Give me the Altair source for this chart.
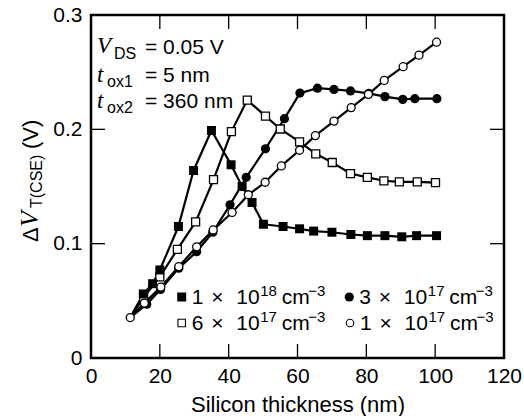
import altair as alt
import pandas as pd

# ---------------- data ----------------
thick_1e18 = [11.4, 15.2, 17.9, 20.0, 25.4, 29.8, 35.0, 40.7, 43.9, 46.8, 50.1, 55.8, 60.6,
              64.7, 70.0, 75.5, 80.3, 85.4, 90.3, 94.6, 100.4]
dvt_1e18 = [0.0354, 0.056, 0.065, 0.077, 0.115, 0.164, 0.199, 0.169, 0.150, 0.136, 0.117, 0.115, 0.113,
            0.111, 0.110, 0.108, 0.107, 0.107, 0.106, 0.107, 0.107]

thick_6e17 = [11.4, 15.3, 20.0, 25.1, 30.4, 35.6, 40.8, 45.4, 50.7, 55.0, 60.6, 65.3, 70.1,
              75.4, 80.3, 85.1, 89.6, 94.8, 100.1]
dvt_6e17 = [0.0354, 0.053, 0.071, 0.095, 0.119, 0.156, 0.198, 0.2256, 0.2116, 0.2003, 0.189, 0.1786, 0.171,
            0.1613, 0.158, 0.155, 0.154, 0.154, 0.1534]

thick_3e17 = [11.4, 16.2, 20.2, 25.5, 30.7, 35.4, 40.4, 45.1, 50.7, 56.2, 60.7, 65.8, 70.6,
              75.4, 80.7, 85.4, 90.6, 94.1, 100.5]
dvt_3e17 = [0.0354, 0.047, 0.060, 0.0786, 0.093, 0.110, 0.134, 0.158, 0.183, 0.2093, 0.2317, 0.236, 0.2349,
            0.2336, 0.2314, 0.2286, 0.2262, 0.2268, 0.2268]

thick_1e17 = [11.4, 15.5, 20.3, 25.5, 30.7, 35.5, 41.0, 45.7, 50.6, 55.3, 60.6, 65.2,
              70.6, 75.6, 80.6, 85.2, 90.7, 95.3, 100.4]
dvt_1e17 = [0.0354, 0.048, 0.062, 0.080, 0.0972, 0.112, 0.1273, 0.1428, 0.1537, 0.168, 0.1817, 0.1945,
            0.2072, 0.219, 0.2306, 0.2428, 0.2548, 0.2649, 0.2762]

x_ticks = [0, 20, 40, 60, 80, 100, 120]
y_ticks = [0, 0.1, 0.2, 0.3]
x_inner_ticks = [20, 40, 60, 80, 100]
y_inner_ticks = [0.1, 0.2]

# ---------------- layout ----------------
W, H = 413, 343
TICK = 14
SANS = "Liberation Sans"
SERIF = "Liberation Serif"
FS = 21

xscale = alt.Scale(domain=[0, 120], nice=False, zero=False)
yscale = alt.Scale(domain=[0, 0.3], nice=False, zero=False)

X = alt.X("x:Q", scale=xscale,
          axis=alt.Axis(values=x_ticks, ticks=False, domain=False, grid=False,
                        labelFontSize=FS, labelFont=SANS, labelColor="black",
                        labelPadding=7, labelFlush=False, format="d",
                        title="Silicon thickness (nm)", titleFont=SANS, titleFontSize=22,
                        titleFontWeight="normal", titleColor="black", titlePadding=8))
Y = alt.Y("y:Q", scale=yscale,
          axis=alt.Axis(values=y_ticks, ticks=False, domain=False, grid=False,
                        labelFontSize=FS, labelFont=SANS, labelColor="black",
                        labelPadding=9, labelFlush=False, format=".1~f", title=" "))


def series(xs, ys, name):
    return pd.DataFrame({"x": xs, "y": ys, "s": name})


d18 = series(thick_1e18, dvt_1e18, "1e18")
d6 = series(thick_6e17, dvt_6e17, "6e17")
d3 = series(thick_3e17, dvt_3e17, "3e17")
d1 = series(thick_1e17, dvt_1e17, "1e17")
all_df = pd.concat([d18, d6, d3, d1], ignore_index=True)

lines = alt.Chart(all_df).mark_line(color="black", strokeWidth=2.2).encode(
    x=X, y=Y, detail="s:N")

# the shared first point lies under the open circle; other series show no marker there
p18 = alt.Chart(d18).transform_filter("datum.x > 12").mark_square(
    size=81, color="black", opacity=1).encode(x=X, y=Y)
p6 = alt.Chart(d6).transform_filter("datum.x > 12").mark_square(
    size=64, fill="white", stroke="black", strokeWidth=1.3, opacity=1).encode(x=X, y=Y)
p3 = alt.Chart(d3).transform_filter("datum.x > 12").mark_circle(
    size=85, color="black", opacity=1).encode(x=X, y=Y)
p1 = alt.Chart(d1).mark_circle(size=64, fill="white", stroke="black", strokeWidth=1.3,
                               opacity=1).encode(x=X, y=Y)

# inward ticks on all four sides
xt = pd.DataFrame({"x": x_inner_ticks})
yt = pd.DataFrame({"y": y_inner_ticks})
tick_b = alt.Chart(xt).mark_rule(color="black", strokeWidth=1.3).encode(
    x=X, y=alt.value(H), y2=alt.value(H - TICK))
tick_t = alt.Chart(xt).mark_rule(color="black", strokeWidth=1.3).encode(
    x=X, y=alt.value(0), y2=alt.value(TICK))
tick_l = alt.Chart(yt).mark_rule(color="black", strokeWidth=1.3).encode(
    y=Y, x=alt.value(0), x2=alt.value(TICK))
tick_r = alt.Chart(yt).mark_rule(color="black", strokeWidth=1.3).encode(
    y=Y, x=alt.value(W), x2=alt.value(W - TICK))

anchor = pd.DataFrame({"a": [0]})


def txt(text, px, py, size, font=SANS, style="normal", angle=0):
    kw = dict(text=text, font=font, fontStyle=style, fontSize=size, align="left",
              baseline="alphabetic", color="black")
    if angle:
        kw["angle"] = angle
    return alt.Chart(anchor).mark_text(**kw).encode(x=alt.value(px), y=alt.value(py))


def marker(kind, px, py):
    if kind == "sq_f":
        m = alt.Chart(anchor).mark_square(size=81, color="black", opacity=1)
    elif kind == "sq_o":
        m = alt.Chart(anchor).mark_square(size=56, fill="white", stroke="black",
                                          strokeWidth=1.1, opacity=1)
    elif kind == "ci_f":
        m = alt.Chart(anchor).mark_circle(size=85, color="black", opacity=1)
    else:
        m = alt.Chart(anchor).mark_circle(size=56, fill="white", stroke="black",
                                          strokeWidth=1.1, opacity=1)
    return m.encode(x=alt.value(px), y=alt.value(py))


texts = [
    # conditions
    txt("V", 6, 38, 23, SERIF, "italic"), txt("DS", 23, 44, 16), txt("= 0.05 V", 54, 39, FS),
    txt("t", 6, 67, 23, SERIF, "italic"), txt("ox1", 16, 72, 16), txt("= 5 nm", 54, 67, FS),
    txt("t", 6, 93, 23, SERIF, "italic"), txt("ox2", 16, 98, 16), txt("= 360 nm", 54, 93, FS),
    # y title (rotated)
    txt("Δ", -53, 227, 22, angle=270),
    txt("V", -53, 212, 26, SERIF, "italic", angle=270),
    txt("T(CSE)", -49.5, 193, 16, angle=270),
    txt("(V)", -53, 134, 22, angle=270),
]

legend_rows = [
    # (marker, x, y, mantissa, exponent)
    ("sq_f", 90.7, 282, "1", "18"),
    ("ci_f", 258.3, 282, "3", "17"),
    ("sq_o", 90.7, 308, "6", "17"),
    ("ci_o", 259, 308, "1", "17"),
]
legend = []
for kind, mx, my, mant, expo in legend_rows:
    base = mx + 10
    bl = my + 7
    legend += [
        marker(kind, mx, my),
        txt(mant, base, bl, FS),
        txt("×", base + 19.5, bl, FS),
        txt("10", base + 44.5, bl, FS),
        txt(expo, base + 68.5, bl - 8, 15),
        txt("cm", base + 90, bl, FS),
        txt("−3", base + 116.5, bl - 8, 15),
    ]

chart = alt.layer(
    lines, p6, p18, p3, p1, tick_b, tick_t, tick_l, tick_r, *texts, *legend
).properties(
    width=W, height=H,
    padding={"left": 91, "top": 15, "right": 20, "bottom": 58},
    autosize=alt.AutoSizeParams(type="none"),
    background="white",
).configure_view(stroke="black", strokeWidth=2.5)

chart.save("out.html", embed_options={"renderer": "svg", "actions": False})
